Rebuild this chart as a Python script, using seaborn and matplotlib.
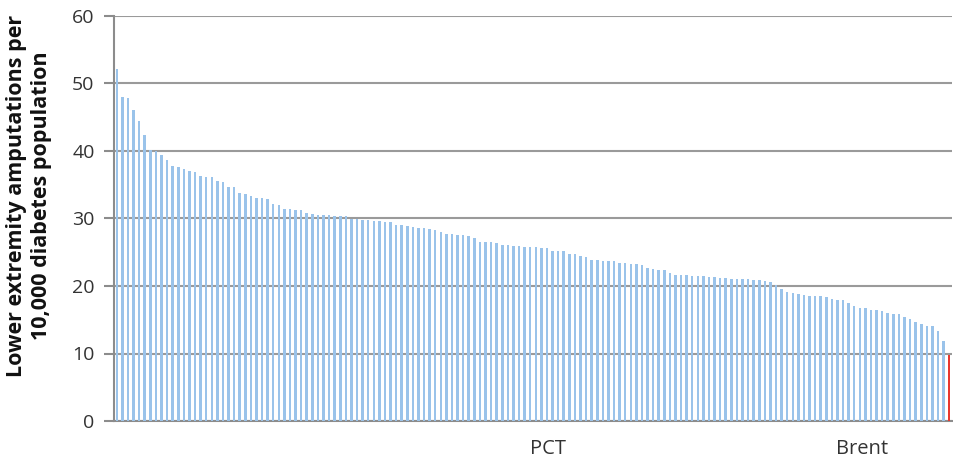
import matplotlib
matplotlib.use("Agg")
import matplotlib.pyplot as plt
import seaborn as sns
import pandas as pd

values = [
    52.1, 48.0, 47.85, 46.1, 44.4, 42.3, 40.1, 40.0, 39.4, 38.7,
    37.8, 37.7, 37.4, 37.0, 36.9, 36.3, 36.2, 36.15, 35.6, 35.45,
    34.67, 34.6, 33.8, 33.6, 33.3, 33.1, 33.1, 32.9, 32.1, 31.95,
    31.4, 31.4, 31.3, 31.2, 30.75, 30.7, 30.55, 30.5, 30.45, 30.4,
    30.3, 30.3, 29.95, 29.9, 29.8, 29.75, 29.6, 29.6, 29.5, 29.5,
    29.0, 29.0, 28.9, 28.7, 28.65, 28.6, 28.5, 28.25, 28.0, 27.7,
    27.7, 27.55, 27.5, 27.4, 27.15, 26.5, 26.5, 26.5, 26.3, 26.07,
    26.0, 25.97, 25.9, 25.8, 25.8, 25.8, 25.7, 25.6, 25.2, 25.2,
    25.2, 24.7, 24.7, 24.45, 24.3, 23.9, 23.8, 23.75, 23.75, 23.75,
    23.45, 23.4, 23.3, 23.26, 23.16, 22.67, 22.57, 22.4, 22.3, 22.0,
    21.6, 21.6, 21.6, 21.5, 21.5, 21.5, 21.4, 21.3, 21.2, 21.15,
    21.1, 21.05, 21.0, 21.0, 20.95, 20.95, 20.7, 20.6, 20.1, 19.5,
    19.16, 18.96, 18.8, 18.6, 18.47, 18.47, 18.45, 18.35, 18.07, 17.9,
    17.88, 17.53, 17.0, 16.8, 16.8, 16.44, 16.44, 16.35, 15.95, 15.85,
    15.8, 15.4, 15.06, 14.6, 14.4, 14.1, 14.1, 13.4, 11.9, 9.8,
]
pct_names = [f"PCT {i + 1}" for i in range(len(values) - 1)] + ["Brent"]
highlight_name = "Brent"
y_ticks = [0, 10, 20, 30, 40, 50, 60]
y_label = "Lower extremity amputations per\n10,000 diabetes population"
x_title = "PCT"

df = pd.DataFrame({"pct": pct_names, "rate": values})
df["group"] = ["highlight" if n == highlight_name else "other" for n in df["pct"]]

sns.set_theme(style="white")
plt.rcParams["font.family"] = ["Open Sans", "DejaVu Sans"]

fig = plt.figure(figsize=(9.54, 4.62), dpi=100)
ax = fig.add_axes([114 / 954, 1 - 421 / 462, (952 - 114) / 954, (421 - 16) / 462])

sns.barplot(data=df, x="pct", y="rate", hue="group",
            palette={"other": "#9AC3EA", "highlight": "#E8382F"},
            saturation=1, dodge=False, width=0.45, legend=False, ax=ax,
            edgecolor="none", linewidth=0, zorder=3)

ax.set_xlim(-0.5, len(values) - 0.5)
ax.set_ylim(0, 60)
ax.set_yticks(y_ticks)
ax.set_yticklabels([str(t) for t in y_ticks], fontsize=14, color="#333333")
ax.set_xticks([])
ax.set_xlabel("")
ax.set_ylabel("")

ax.grid(axis="y", color="#9a9a9a", linewidth=1.5, zorder=0)
ax.set_axisbelow(True)
for s in ["top", "right"]:
    ax.spines[s].set_visible(False)
for s in ["left", "bottom"]:
    ax.spines[s].set_color("#8c8c8c")
    ax.spines[s].set_linewidth(1.5)
ax.tick_params(axis="y", which="major", length=7, width=1.5, color="#8c8c8c",
               direction="out", pad=7, left=True)

fig.text(29 / 954, 1 - 196 / 462, y_label, rotation=90, ha="center", va="center",
         fontsize=15.5, fontweight="bold", color="#111111", linespacing=1.2,
         family=["Open Sans", "DejaVu Sans"])

fig.text(548 / 954, 1 - 449 / 462, x_title, ha="center", va="center",
         fontsize=14.5, color="#333333")
fig.text(862 / 954, 1 - 449 / 462, highlight_name, ha="center", va="center",
         fontsize=14.5, color="#333333")

fig.savefig("out.png", dpi=100)
